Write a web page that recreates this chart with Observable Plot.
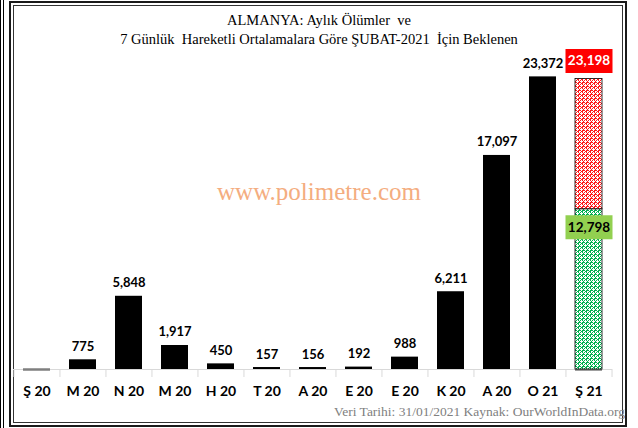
<!DOCTYPE html>
<html>
<head>
<meta charset="utf-8">
<script src="https://cdn.jsdelivr.net/npm/d3@7"></script>
<script src="https://cdn.jsdelivr.net/npm/@observablehq/plot@0.6"></script>
<style>
  html, body { margin: 0; padding: 0; background: #fff; }
  #wrap { position: relative; width: 638px; height: 428px; overflow: hidden; background: #fff; }
  #chart { position: absolute; left: 0; top: 0; }
  .abs { position: absolute; pointer-events: none; }
  .title { left: 0; width: 638px; text-align: center; font-family: "Liberation Serif", "Times New Roman", serif; font-size: 14.5px; color: #000; white-space: pre; }
  .wm { left: 0; width: 638px; text-align: center; font-family: "Liberation Serif", serif; font-size: 25px; color: #f4ad80; }
  .cap { right: 13px; top: 404px; font-family: "Liberation Serif", serif; font-size: 13.5px; color: #808080; white-space: pre; }
</style>
</head>
<body>
<div id="wrap">
  <div class="abs" style="left:0;top:0;width:1px;height:428px;background:#000"></div>
  <div class="abs" style="left:3px;top:0;width:1px;height:428px;background:#000"></div>
  <div class="abs" style="left:9px;top:1px;width:614px;height:422px;border:2px solid #1a1a1a"></div>
  <div class="abs" style="left:13px;top:5px;width:608px;height:416px;border:1px solid #333"></div>
  <div class="abs title" style="top:12px">ALMANYA: Aylık Ölümler  ve</div>
  <div class="abs title" style="top:31px">7 Günlük  Hareketli Ortalamalara Göre ŞUBAT-2021  İçin Beklenen</div>
  <div class="abs wm" style="top:178px">www.polimetre.com</div>
  <div id="chart"></div>
  <div class="abs cap">Veri Tarihi: 31/01/2021 Kaynak: OurWorldInData.org</div>
</div>
<script>
// ---- data ----
const monthKeys = ["2020-02","2020-03","2020-04","2020-05","2020-06","2020-07","2020-08","2020-09","2020-10","2020-11","2020-12","2021-01","2021-02"];
const monthLabels = ["Ş 20","M 20","N 20","M 20","H 20","T 20","A 20","E 20","E 20","K 20","A 20","O 21","Ş 21"];
const monthlyDeaths = [0, 775, 5848, 1917, 450, 157, 156, 192, 988, 6211, 17097, 23372, 0];
const expectedKey = "2021-02";
const expectedLow = 12798;
const expectedHigh = 23198;

const data = monthKeys.map((k, i) => ({key: k, label: monthLabels[i], value: monthlyDeaths[i]}));
const labelOf = new Map(data.map(d => [d.key, d.label]));
const fmt = d3.format(",");

const W = 638, ML = 13, MR = 26;
const step = (W - ML - MR) / monthKeys.length;

const box = {draw(ctx) { ctx.rect(-23.5, -12, 47, 24); }};
const valueFont = "Lato, 'Open Sans', sans-serif";

const chart = Plot.plot({
  width: W, height: 428,
  marginLeft: ML, marginRight: MR, marginTop: 56, marginBottom: 59,
  style: {background: "transparent"},
  x: {domain: monthKeys, paddingInner: 0.41, paddingOuter: 0.205},
  y: {domain: [0, 25000], axis: null},
  marks: [
    Plot.ruleY([0], {stroke: "#d9d9d9"}),
    Plot.ruleX(monthKeys, {x: d => d, y1: 0, y2: 0, dx: -step / 2, insetBottom: -8, stroke: "#d9d9d9"}),
    Plot.ruleX([monthKeys[monthKeys.length - 1]], {x: d => d, y1: 0, y2: 0, dx: step / 2, insetBottom: -8, stroke: "#d9d9d9"}),
    Plot.barY(data.filter(d => d.value > 0), {x: "key", y: "value", fill: "#000"}),
    Plot.tickY(data.filter(d => d.value === 0), {x: "key", y: "value", stroke: "#7f7f7f", strokeWidth: 2.5}),
    Plot.barY([{key: expectedKey, y1: 0, y2: expectedLow}], {x: "key", y1: "y1", y2: "y2", fill: "url(#patGreen)", stroke: "#000", strokeWidth: 0.8}),
    Plot.barY([{key: expectedKey, y1: expectedLow, y2: expectedHigh}], {x: "key", y1: "y1", y2: "y2", fill: "url(#patRed)", stroke: "#000", strokeWidth: 0.8}),
    Plot.text(data.filter(d => d.value > 0), {x: "key", y: "value", text: d => fmt(d.value), lineAnchor: "bottom", dy: -9, fontSize: 13, fontWeight: 700, fontFamily: valueFont, fill: "#000"}),
    Plot.dot([{key: expectedKey, v: expectedHigh}], {x: "key", y: "v", symbol: box, r: 3, fill: "#ff0000", stroke: null, dy: -18}),
    Plot.text([{key: expectedKey, v: expectedHigh}], {x: "key", y: "v", text: d => fmt(d.v), dy: -18, fontSize: 13.5, fontWeight: 700, fontFamily: valueFont, fill: "#fff"}),
    Plot.dot([{key: expectedKey, v: expectedLow}], {x: "key", y: "v", symbol: box, r: 3, fill: "#92d050", stroke: null, dy: 18}),
    Plot.text([{key: expectedKey, v: expectedLow}], {x: "key", y: "v", text: d => fmt(d.v), dy: 18, fontSize: 13.5, fontWeight: 700, fontFamily: valueFont, fill: "#000"}),
    Plot.axisX({tickSize: 0, tickPadding: 17, tickFormat: k => labelOf.get(k), fontSize: 14, fontWeight: 700, fontFamily: valueFont, label: null, color: "#000"})
  ]
});

// dotted-lattice patterns for the expected bar
const svg = d3.select(chart);
const defs = svg.insert("defs", ":first-child");
function pattern(id, color) {
  const p = defs.append("pattern").attr("id", id).attr("width", 4).attr("height", 4).attr("patternUnits", "userSpaceOnUse");
  p.append("rect").attr("width", 4).attr("height", 4).attr("fill", color);
  p.append("rect").attr("x", 1).attr("y", 0).attr("width", 1).attr("height", 3).attr("fill", "#fff");
  p.append("rect").attr("x", 0).attr("y", 1).attr("width", 3).attr("height", 1).attr("fill", "#fff");
  p.append("rect").attr("x", 3).attr("y", 3).attr("width", 1).attr("height", 1).attr("fill", "#fff");
  p.append("rect").attr("x", 0).attr("y", 3).attr("width", 1).attr("height", 1).attr("fill", "#fff");
  p.append("rect").attr("x", 3).attr("y", 0).attr("width", 1).attr("height", 1).attr("fill", "#fff");
}
pattern("patGreen", "#00b050");
pattern("patRed", "#ff1a1a");

document.getElementById("chart").appendChild(chart);
</script>
</body>
</html>
